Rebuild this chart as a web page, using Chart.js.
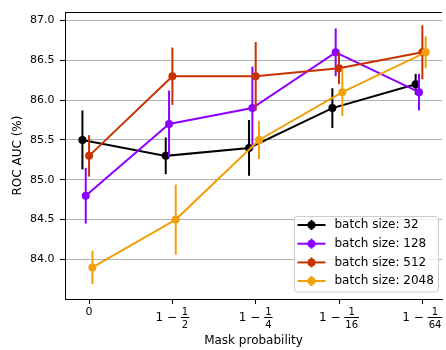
<!DOCTYPE html>
<html>
<head>
<meta charset="utf-8">
<script src="https://cdn.jsdelivr.net/npm/chart.js@4/dist/chart.umd.min.js"></script>
<style>
html,body{margin:0;padding:0;background:#fff;}
canvas{display:block;}
</style>
</head>
<body>
<canvas id="c" width="446" height="350"></canvas>
<script>
// ---- data ----
const categories = ['0', '1-1/2', '1-1/4', '1-1/16', '1-1/64'];
const denominators = [null, 2, 4, 16, 64];
const seriesNames = ['batch size: 32', 'batch size: 128', 'batch size: 512', 'batch size: 2048'];
const bs32 = [85.5, 85.3, 85.4, 85.9, 86.2];
const err32 = [0.37, 0.23, 0.35, 0.25, 0.13];
const bs128 = [84.8, 85.7, 85.9, 86.6, 86.1];
const err128 = [0.35, 0.42, 0.52, 0.30, 0.23];
const bs512 = [85.3, 86.3, 86.3, 86.4, 86.6];
const err512 = [0.26, 0.36, 0.43, 0.20, 0.34];
const bs2048 = [83.9, 84.5, 85.5, 86.1, 86.6];
const err2048 = [0.21, 0.44, 0.24, 0.30, 0.20];
const yTicks = [84.0, 84.5, 85.0, 85.5, 86.0, 86.5, 87.0];

const colors = ['#000000', '#8B00FF', '#C83200', '#F0A00A'];
const offsets = [-0.08, -0.04, 0, 0.04];
const values = [bs32, bs128, bs512, bs2048];
const errors = [err32, err128, err512, err2048];

const FONT = "'DejaVu Sans', sans-serif";

const datasets = values.map((vals, s) => ({
  label: seriesNames[s],
  data: vals.map((v, i) => ({x: i + offsets[s], y: v})),
  errs: errors[s],
  borderColor: colors[s],
  backgroundColor: colors[s],
  pointBackgroundColor: colors[s],
  pointBorderWidth: 0,
  pointRadius: 4,
  borderWidth: 2,
  tension: 0,
  order: 4 - s,
  clip: false
}));

const errorBarPlugin = {
  id: 'errorbars',
  beforeDatasetDraw(chart, args) {
    const ds = chart.data.datasets[args.index];
    const meta = chart.getDatasetMeta(args.index);
    const ys = chart.scales.y;
    const ctx = chart.ctx;
    ctx.save();
    ctx.strokeStyle = ds.borderColor;
    ctx.lineWidth = 2;
    ds.data.forEach((p, j) => {
      const x = meta.data[j].x;
      const y1 = ys.getPixelForValue(p.y + ds.errs[j]);
      const y2 = ys.getPixelForValue(p.y - ds.errs[j]);
      ctx.beginPath();
      ctx.moveTo(x, y1);
      ctx.lineTo(x, y2);
      ctx.stroke();
    });
    ctx.restore();
  }
};

const decorPlugin = {
  id: 'decor',
  afterDraw(chart) {
    const ctx = chart.ctx;
    const ca = chart.chartArea;
    const xs = chart.scales.x;
    ctx.save();
    // top spine
    ctx.strokeStyle = '#000';
    ctx.lineWidth = 1;
    ctx.beginPath();
    ctx.moveTo(ca.left, Math.round(ca.top) + 0.5);
    ctx.lineTo(ca.right, Math.round(ca.top) + 0.5);
    ctx.stroke();

    // x tick labels
    ctx.fillStyle = '#000';
    categories.forEach((c, i) => {
      const cx = xs.getPixelForValue(i);
      const d = denominators[i];
      if (d === null) {
        ctx.font = '11px ' + FONT;
        ctx.textAlign = 'center';
        ctx.textBaseline = 'middle';
        ctx.fillText(c, cx, 312);
      } else {
        ctx.font = '12px ' + FONT;
        const main = '1 \u2212 ';
        const wMain = ctx.measureText(main).width;
        ctx.font = '10px ' + FONT;
        const wNum = ctx.measureText('1').width;
        const wDen = ctx.measureText(String(d)).width;
        const wFrac = Math.max(wNum, wDen) + 2;
        const total = wMain + wFrac;
        const x0 = cx - total / 2;
        ctx.font = '12px ' + FONT;
        ctx.textAlign = 'left';
        ctx.textBaseline = 'middle';
        ctx.fillText(main, x0, 318);
        const fx = x0 + wMain + wFrac / 2;
        ctx.font = '10px ' + FONT;
        ctx.textAlign = 'center';
        ctx.textBaseline = 'alphabetic';
        ctx.fillText('1', fx, 314.5);
        ctx.fillText(String(d), fx, 328);
        ctx.beginPath();
        ctx.lineWidth = 1;
        ctx.moveTo(x0 + wMain, 317.5);
        ctx.lineTo(x0 + wMain + wFrac, 317.5);
        ctx.stroke();
      }
    });

    // legend
    const lx = 294.5, ly = 216.5, lw = 144, lh = 75.5;
    ctx.beginPath();
    if (ctx.roundRect) ctx.roundRect(lx, ly, lw, lh, 3); else ctx.rect(lx, ly, lw, lh);
    ctx.fillStyle = 'rgba(255,255,255,0.8)';
    ctx.fill();
    ctx.strokeStyle = '#cccccc';
    ctx.lineWidth = 1;
    ctx.stroke();
    const rowY = [225, 243.7, 262.4, 281];
    seriesNames.forEach((name, s) => {
      const y = rowY[s];
      ctx.strokeStyle = colors[s];
      ctx.fillStyle = colors[s];
      ctx.lineWidth = 2;
      ctx.beginPath();
      ctx.moveTo(297.5, y);
      ctx.lineTo(325.5, y);
      ctx.stroke();
      ctx.beginPath();
      ctx.moveTo(311.5, y - 5);
      ctx.lineTo(311.5, y + 5);
      ctx.stroke();
      ctx.beginPath();
      ctx.arc(311.5, y, 4, 0, Math.PI * 2);
      ctx.fill();
      ctx.fillStyle = '#000';
      ctx.font = '12px ' + FONT;
      ctx.textAlign = 'left';
      ctx.textBaseline = 'middle';
      ctx.fillText(name, 334.5, y);
    });
    ctx.restore();
  }
};

new Chart(document.getElementById('c'), {
  type: 'line',
  data: {datasets},
  plugins: [errorBarPlugin, decorPlugin],
  options: {
    responsive: false,
    animation: false,
    devicePixelRatio: 1,
    layout: {padding: {top: 2, right: 0, left: 0, bottom: 0}},
    plugins: {legend: {display: false}, tooltip: {enabled: false}},
    scales: {
      x: {
        type: 'linear',
        min: -0.289,
        max: 4.236,
        afterBuildTicks(scale) { scale.ticks = categories.map((c, i) => ({value: i})); },
        afterFit(scale) { scale.height = 51; },
        ticks: {display: false},
        grid: {display: true, drawOnChartArea: false, drawTicks: true, tickLength: 5, tickColor: '#000', tickWidth: 1},
        border: {display: true, color: '#000', width: 1},
        title: {display: true, text: 'Mask probability', color: '#000', font: {family: FONT, size: 12}, padding: {top: 0, bottom: 2}}
      },
      y: {
        type: 'linear',
        min: 83.503,
        max: 87.105,
        afterBuildTicks(scale) { scale.ticks = yTicks.map(v => ({value: v})); },
        afterFit(scale) { scale.width = 65; },
        ticks: {color: '#000', font: {family: FONT, size: 11}, padding: 5.5, callback: v => Number(v).toFixed(1)},
        grid: {display: true, color: '#b0b0b0', lineWidth: 1, drawTicks: true, tickLength: 5, tickColor: '#000', tickWidth: 1},
        border: {display: true, color: '#000', width: 1},
        title: {display: true, text: 'ROC AUC (%)', color: '#000', font: {family: FONT, size: 12}, padding: {top: 11, bottom: 0}}
      }
    }
  }
});
</script>
</body>
</html>
